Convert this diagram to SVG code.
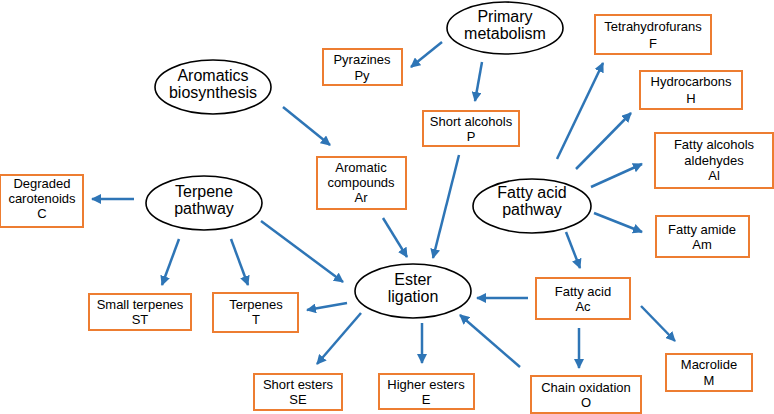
<svg xmlns="http://www.w3.org/2000/svg" width="774" height="414" viewBox="0 0 774 414">
<style>
.n ellipse{fill:#fff;stroke:#000;stroke-width:1.6}
.b rect{fill:#fff;stroke:#ED7D31;stroke-width:2}
text{font-family:"Liberation Sans",Arial,sans-serif;text-anchor:middle;fill:#000}
.b text{font-size:13px}
.n text{font-size:16px}
#edges line{stroke:#2E75B6;stroke-width:2.5;marker-end:url(#ah)}
</style>
<defs>
<marker id="ah" viewBox="0 0 10 10" refX="9" refY="5" markerWidth="4" markerHeight="4" orient="auto" markerUnits="strokeWidth">
<path d="M0,0 L10,5 L0,10 z" fill="#2E75B6"/>
</marker>
</defs>
<g id="edges">
<line x1="442" y1="42" x2="411" y2="67"/>
<line x1="482" y1="62" x2="475" y2="101"/>
<line x1="283" y1="107" x2="330" y2="145"/>
<line x1="134" y1="199" x2="92" y2="199"/>
<line x1="179" y1="239" x2="162" y2="285"/>
<line x1="231" y1="239" x2="248" y2="285"/>
<line x1="261" y1="221" x2="343" y2="282"/>
<line x1="383" y1="218" x2="407" y2="257"/>
<line x1="459" y1="155" x2="433" y2="258"/>
<line x1="347" y1="303" x2="307" y2="310"/>
<line x1="361" y1="313" x2="317" y2="364"/>
<line x1="422" y1="323" x2="422" y2="363"/>
<line x1="520" y1="367" x2="460" y2="315"/>
<line x1="528" y1="298" x2="477" y2="298"/>
<line x1="566" y1="232" x2="580" y2="268"/>
<line x1="594" y1="213" x2="642" y2="232"/>
<line x1="641" y1="306" x2="675" y2="341"/>
<line x1="579" y1="328" x2="579" y2="368"/>
<line x1="557" y1="159" x2="603" y2="63"/>
<line x1="576" y1="169" x2="631" y2="113"/>
<line x1="591" y1="187" x2="642" y2="164"/>
</g>
<g id="primary" class="n"><ellipse cx="505" cy="28" rx="58" ry="26"/><text x="505" y="22">Primary</text><text x="505" y="39">metabolism</text></g>
<g id="aromatics" class="n"><ellipse cx="213" cy="87" rx="58" ry="27"/><text x="213" y="81">Aromatics</text><text x="213" y="98">biosynthesis</text></g>
<g id="terpene" class="n"><ellipse cx="204" cy="203" rx="58" ry="27"/><text x="204" y="197">Terpene</text><text x="204" y="214">pathway</text></g>
<g id="fattyacidpathway" class="n"><ellipse cx="532" cy="206" rx="59" ry="27"/><text x="532" y="198">Fatty acid</text><text x="532" y="215">pathway</text></g>
<g id="ester" class="n"><ellipse cx="413" cy="291" rx="58" ry="27"/><text x="413" y="285">Ester</text><text x="413" y="302">ligation</text></g>
<g id="Py" class="b"><rect x="323" y="49" width="79" height="36"/><text x="362" y="64">Pyrazines</text><text x="362" y="80">Py</text></g>
<g id="P" class="b"><rect x="423" y="111" width="96" height="35"/><text x="471" y="126">Short alcohols</text><text x="471" y="141">P</text></g>
<g id="F" class="b"><rect x="595" y="15" width="116" height="39"/><text x="653" y="31">Tetrahydrofurans</text><text x="653" y="48">F</text></g>
<g id="H" class="b"><rect x="640" y="71" width="102" height="38"/><text x="691" y="86">Hydrocarbons</text><text x="691" y="103">H</text></g>
<g id="Al" class="b"><rect x="655" y="133" width="118" height="55"/><text x="714" y="149">Fatty alcohols</text><text x="714" y="165">aldehydes</text><text x="714" y="180">Al</text></g>
<g id="Ar" class="b"><rect x="317" y="157" width="89" height="52"/><text x="361" y="172">Aromatic</text><text x="361" y="187">compounds</text><text x="361" y="202">Ar</text></g>
<g id="C" class="b"><rect x="0" y="175" width="83" height="52"/><text x="42" y="188">Degraded</text><text x="42" y="203">carotenoids</text><text x="42" y="218">C</text></g>
<g id="ST" class="b"><rect x="89" y="294" width="102" height="36"/><text x="140" y="309">Small terpenes</text><text x="140" y="324">ST</text></g>
<g id="T" class="b"><rect x="213" y="293" width="85" height="39"/><text x="256" y="309">Terpenes</text><text x="256" y="324">T</text></g>
<g id="SE" class="b"><rect x="254" y="374" width="88" height="36"/><text x="298" y="389">Short esters</text><text x="298" y="404">SE</text></g>
<g id="E" class="b"><rect x="379" y="374" width="95" height="35"/><text x="426" y="389">Higher esters</text><text x="426" y="404">E</text></g>
<g id="O" class="b"><rect x="531" y="376" width="110" height="37"/><text x="586" y="392">Chain oxidation</text><text x="586" y="407">O</text></g>
<g id="Ac" class="b"><rect x="536" y="278" width="94" height="41"/><text x="583" y="296">Fatty acid</text><text x="583" y="311">Ac</text></g>
<g id="Am" class="b"><rect x="656" y="216" width="93" height="41"/><text x="702" y="234">Fatty amide</text><text x="702" y="249">Am</text></g>
<g id="M" class="b"><rect x="666" y="354" width="86" height="37"/><text x="709" y="369">Macrolide</text><text x="709" y="385">M</text></g>
</svg>
